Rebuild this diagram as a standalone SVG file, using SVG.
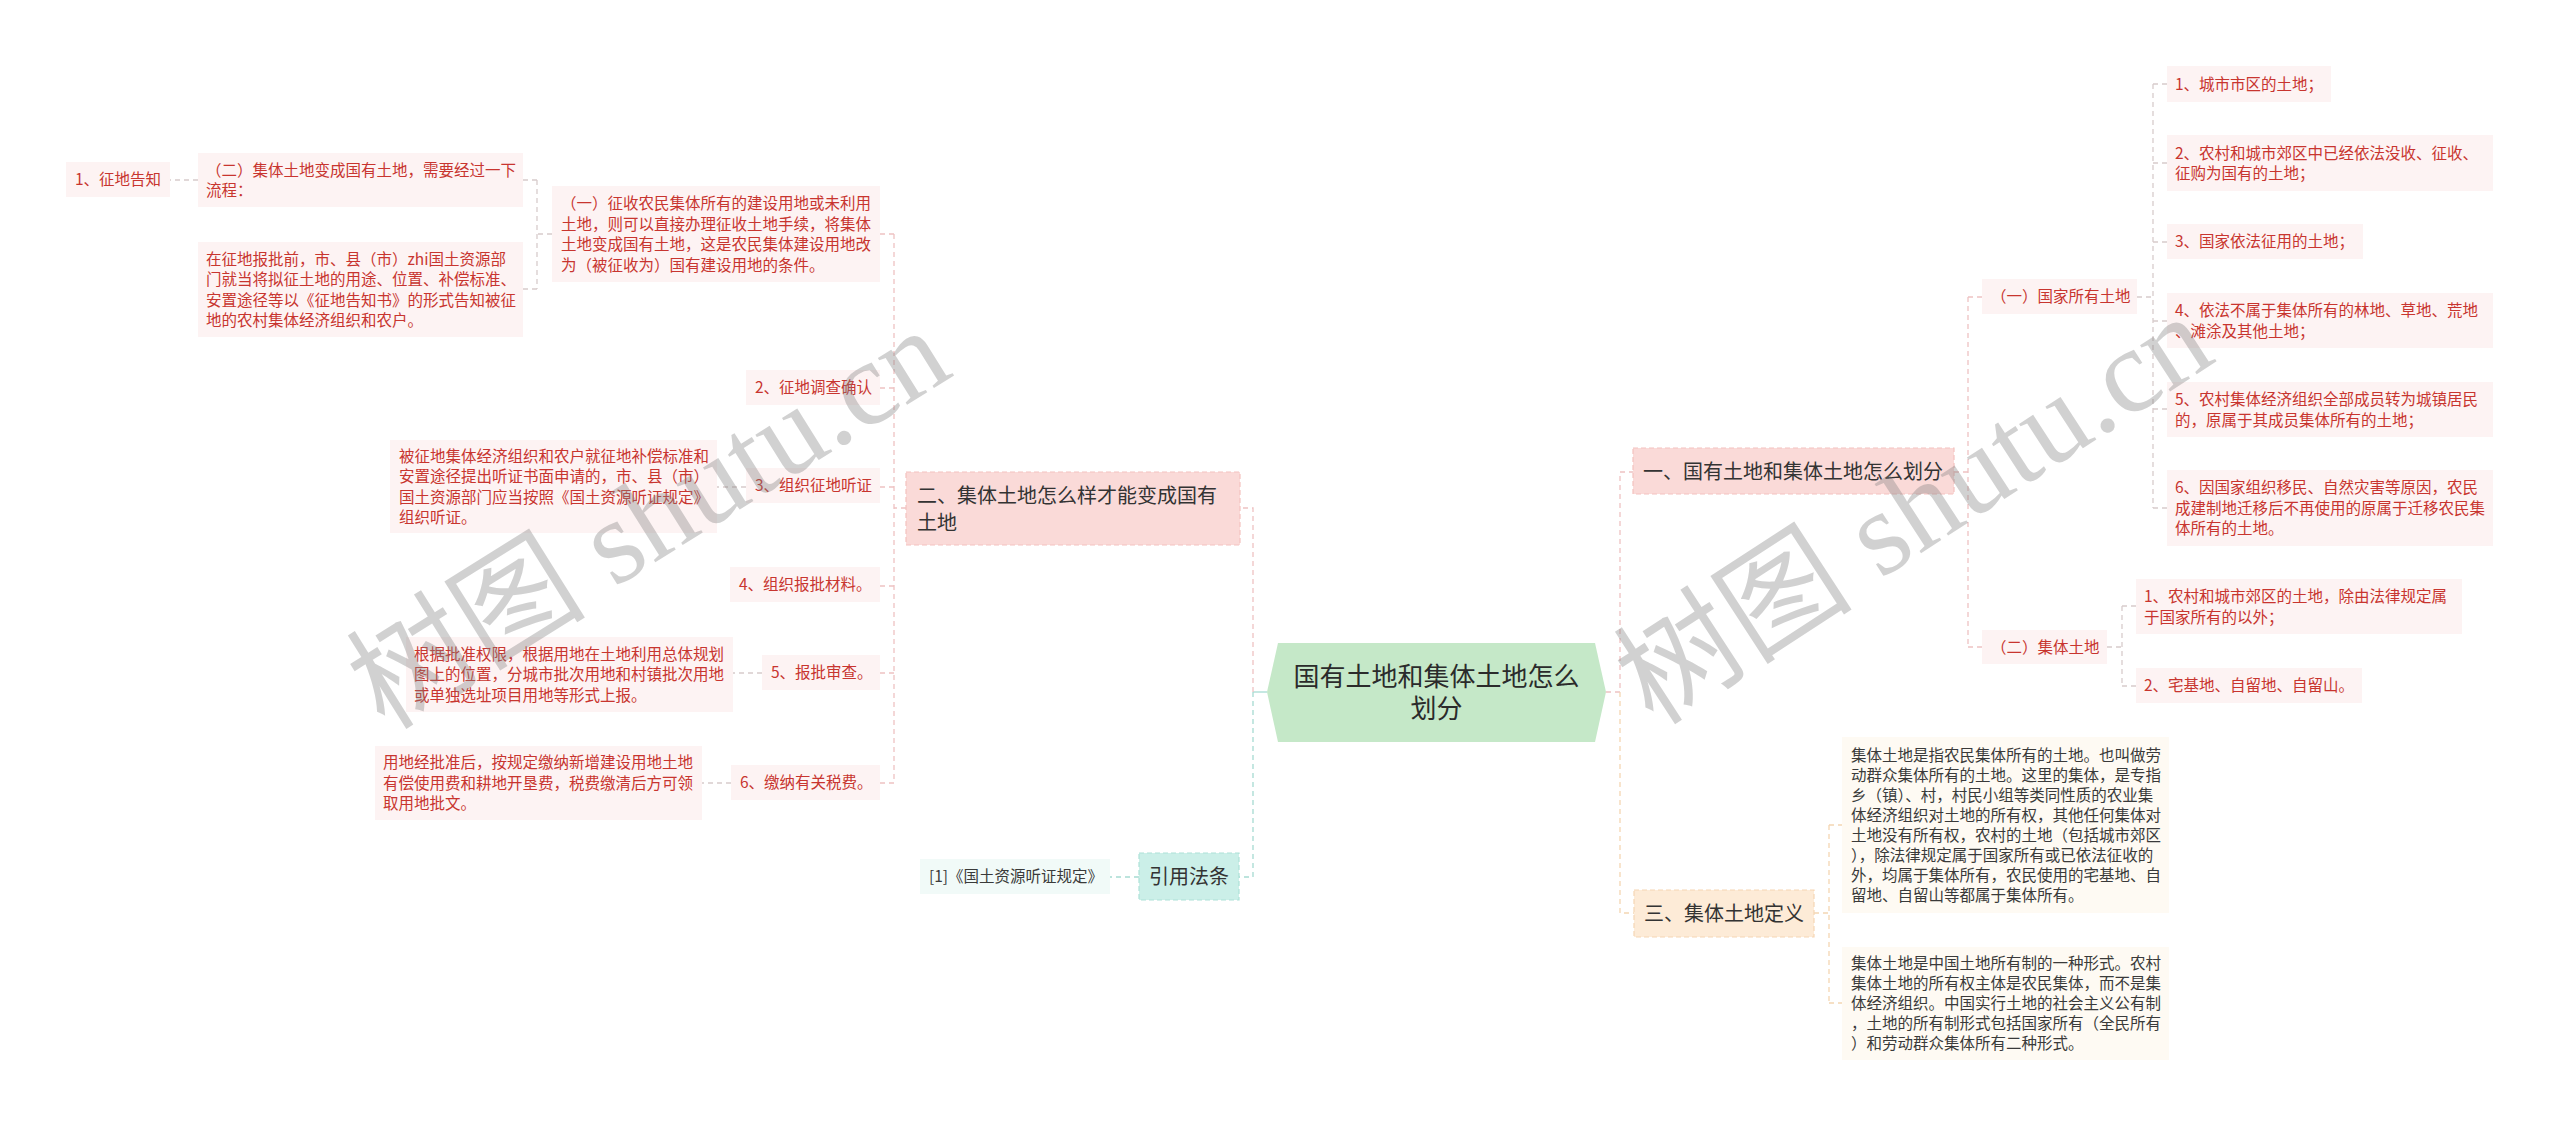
<svg xmlns="http://www.w3.org/2000/svg" width="2560" height="1128" viewBox="0 0 2560 1128">
<style>
text{font-family:"Noto Sans CJK SC","Noto Sans",sans-serif}
.t{font-size:15.5px;fill:#c8352f}
.dk{font-size:15.5px;fill:#3a3a3a}
.h{font-size:20px;fill:#333}
.m{font-size:26px;fill:#2b2b2b}
.leaf{fill:#fdf3f3}
.para{fill:#fefaf3}
.refb{fill:#f1faf8}
.pink{fill:#fadad8;stroke:#f3c2bf;stroke-width:1.2;stroke-dasharray:5 3}
.peach{fill:#fdebd7;stroke:#f6d6b4;stroke-width:1.2;stroke-dasharray:5 3}
.teal{fill:#cbefe8;stroke:#ade2d8;stroke-width:1.2;stroke-dasharray:5 3}
.c{fill:none;stroke-width:1.3;stroke-dasharray:5 4}
.cp{stroke:#eec2c2}
.cg{stroke:#d8cccc}
.ct{stroke:#a6dbd2}
.co{stroke:#f4d6b2}
.wm{font-family:"Liberation Serif","Noto Sans CJK SC",serif;font-size:120px;fill:#7f7f7f;fill-opacity:.36}
</style>
<rect width="2560" height="1128" fill="#fff"/>

<g id="connectors">
<path class="c ct" d="M1267,692 H1253" style="stroke-dasharray:none"/>
<path class="c ct" d="M1253,692 V877 H1239"/>
<path class="c cp" d="M1253,692 V508 H1240"/>
<path class="c ct" d="M1139,877 H1110"/>
<path class="c cp" d="M906,508 H894 M894,234 V783 M894,234 H880 M894,388 H880 M894,487 H880 M894,586 H880 M894,673 H880 M894,783 H880"/>
<path class="c cg" d="M552,234 H537 M537,180 V289 M537,180 H523 M537,289 H523"/>
<path class="c cg" d="M198,180 H170"/>
<path class="c cg" d="M746,487 H717 M762,673 H733 M731,783 H702"/>
<path class="c cp" d="M1606,692 H1620 V472 H1633"/>
<path class="c co" d="M1620,692 V913 H1634"/>
<path class="c cp" d="M1954,472 H1968 M1968,297 V647 M1968,297 H1982 M1968,647 H1982"/>
<path class="c cg" d="M2137,297 H2153 M2153,84 V508 M2153,84 H2167 M2153,163 H2167 M2153,242 H2167 M2153,321 H2167 M2153,409 H2167 M2153,508 H2167"/>
<path class="c cg" d="M2107,647 H2122 M2122,606 V686 M2122,606 H2136 M2122,686 H2136"/>
<path class="c co" d="M1814,913 H1829 M1829,825 V1003 M1829,825 H1842 M1829,1003 H1842"/>
</g>

<g id="main">
<polygon points="1267,692 1278,643 1595,643 1606,692 1595,742 1278,742" fill="#c5e8c8"/>
<text class="m" text-anchor="middle"><tspan x="1436.5" y="686.4">国有土地和集体土地怎么</tspan><tspan x="1436.5" y="718.4">划分</tspan></text>
</g>

<g id="er">
<rect class="pink" x="906" y="472" width="334" height="73"/>
<text class="h"><tspan x="917" y="502.6">二、集体土地怎么样才能变成国有</tspan><tspan x="917" y="529.6">土地</tspan></text>
</g>
<g id="yinyong">
<rect class="teal" x="1139" y="853" width="100" height="47"/>
<text class="h" x="1189" y="884" text-anchor="middle">引用法条</text>
</g>
<g id="ref">
<rect class="refb" x="920" y="859" width="190" height="35"/>
<text class="dk" x="929" y="882.4">[1]《国土资源听证规定》</text>
</g>

<g id="yi1">
<rect class="leaf" x="552" y="186" width="328" height="96"/>
<text class="t"><tspan x="561" y="209.1">（一）征收农民集体所有的建设用地或未利用</tspan><tspan x="561" y="229.6">土地，则可以直接办理征收土地手续，将集体</tspan><tspan x="561" y="250.1">土地变成国有土地，这是农民集体建设用地改</tspan><tspan x="561" y="270.6">为（被征收为）国有建设用地的条件。</tspan></text>
</g>
<g id="er2">
<rect class="leaf" x="198" y="153" width="325" height="54"/>
<text class="t"><tspan x="206" y="175.6">（二）集体土地变成国有土地，需要经过一下</tspan><tspan x="206" y="196.1">流程：</tspan></text>
</g>
<g id="gaozhi">
<rect class="leaf" x="66" y="162" width="104" height="35"/>
<text class="t" x="75" y="185.4">1、征地告知</text>
</g>
<g id="zhengdi-text">
<rect class="leaf" x="198" y="242" width="325" height="95"/>
<text class="t"><tspan x="206" y="264.6">在征地报批前，市、县（市）zhi国土资源部</tspan><tspan x="206" y="285.1">门就当将拟征土地的用途、位置、补偿标准、</tspan><tspan x="206" y="305.6">安置途径等以《征地告知书》的形式告知被征</tspan><tspan x="206" y="326.1">地的农村集体经济组织和农户。</tspan></text>
</g>
<g id="diaocha">
<rect class="leaf" x="746" y="370" width="134" height="35"/>
<text class="t" x="755" y="393.4">2、征地调查确认</text>
</g>
<g id="tingzheng">
<rect class="leaf" x="746" y="468" width="134" height="35"/>
<text class="t" x="755" y="491.4">3、组织征地听证</text>
</g>
<g id="tingzheng-text">
<rect class="leaf" x="390" y="440" width="327" height="93"/>
<text class="t"><tspan x="399" y="461.6">被征地集体经济组织和农户就征地补偿标准和</tspan><tspan x="399" y="482.1">安置途径提出听证书面申请的，市、县（市）</tspan><tspan x="399" y="502.6">国土资源部门应当按照《国土资源听证规定》</tspan><tspan x="399" y="523.1">组织听证。</tspan></text>
</g>
<g id="baopi">
<rect class="leaf" x="730" y="567" width="150" height="35"/>
<text class="t" x="739" y="590.4">4、组织报批材料。</text>
</g>
<g id="shencha">
<rect class="leaf" x="762" y="655" width="118" height="35"/>
<text class="t" x="771" y="678.4">5、报批审查。</text>
</g>
<g id="shencha-text">
<rect class="leaf" x="406" y="637" width="327" height="75"/>
<text class="t"><tspan x="414" y="659.9">根据批准权限，根据用地在土地利用总体规划</tspan><tspan x="414" y="680.4">图上的位置，分城市批次用地和村镇批次用地</tspan><tspan x="414" y="700.9">或单独选址项目用地等形式上报。</tspan></text>
</g>
<g id="jiaona">
<rect class="leaf" x="731" y="765" width="149" height="35"/>
<text class="t" x="740" y="788.4">6、缴纳有关税费。</text>
</g>
<g id="jiaona-text">
<rect class="leaf" x="375" y="746" width="327" height="74"/>
<text class="t"><tspan x="383" y="768.4">用地经批准后，按规定缴纳新增建设用地土地</tspan><tspan x="383" y="788.9">有偿使用费和耕地开垦费，税费缴清后方可领</tspan><tspan x="383" y="809.4">取用地批文。</tspan></text>
</g>

<g id="yi">
<rect class="pink" x="1633" y="448" width="321" height="46"/>
<text class="h" x="1643" y="478.6">一、国有土地和集体土地怎么划分</text>
</g>
<g id="guojia">
<rect class="leaf" x="1982" y="279" width="155" height="35"/>
<text class="t" x="1991" y="302.4">（一）国家所有土地</text>
</g>
<g id="r1">
<rect class="leaf" x="2167" y="66" width="164" height="36"/>
<text class="t" x="2175" y="89.9">1、城市市区的土地；</text>
</g>
<g id="r2">
<rect class="leaf" x="2167" y="135" width="326" height="56"/>
<text class="t"><tspan x="2175" y="158.6">2、农村和城市郊区中已经依法没收、征收、</tspan><tspan x="2175" y="179.1">征购为国有的土地；</tspan></text>
</g>
<g id="r3">
<rect class="leaf" x="2167" y="224" width="196" height="35"/>
<text class="t" x="2175" y="247.4">3、国家依法征用的土地；</text>
</g>
<g id="r4">
<rect class="leaf" x="2167" y="293" width="326" height="55"/>
<text class="t"><tspan x="2175" y="316.1">4、依法不属于集体所有的林地、草地、荒地</tspan><tspan x="2175" y="336.6">、滩涂及其他土地；</tspan></text>
</g>
<g id="r5">
<rect class="leaf" x="2167" y="382" width="326" height="55"/>
<text class="t"><tspan x="2175" y="405.1">5、农村集体经济组织全部成员转为城镇居民</tspan><tspan x="2175" y="425.6">的，原属于其成员集体所有的土地；</tspan></text>
</g>
<g id="r6">
<rect class="leaf" x="2167" y="470" width="326" height="76"/>
<text class="t"><tspan x="2175" y="493.4">6、因国家组织移民、自然灾害等原因，农民</tspan><tspan x="2175" y="513.9">成建制地迁移后不再使用的原属于迁移农民集</tspan><tspan x="2175" y="534.4">体所有的土地。</tspan></text>
</g>
<g id="jiti">
<rect class="leaf" x="1982" y="630" width="125" height="34"/>
<text class="t" x="1991" y="652.9">（二）集体土地</text>
</g>
<g id="c1">
<rect class="leaf" x="2136" y="579" width="326" height="55"/>
<text class="t"><tspan x="2144" y="602.1">1、农村和城市郊区的土地，除由法律规定属</tspan><tspan x="2144" y="622.6">于国家所有的以外；</tspan></text>
</g>
<g id="c2">
<rect class="leaf" x="2136" y="668" width="226" height="35"/>
<text class="t" x="2144" y="691.4">2、宅基地、自留地、自留山。</text>
</g>

<g id="san">
<rect class="peach" x="1634" y="890" width="180" height="47"/>
<text class="h" x="1644" y="921.1">三、集体土地定义</text>
</g>
<g id="d1">
<rect class="para" x="1842" y="737" width="327" height="176"/>
<text class="dk"><tspan x="1851" y="760.9">集体土地是指农民集体所有的土地。也叫做劳</tspan><tspan x="1851" y="780.9">动群众集体所有的土地。这里的集体，是专指</tspan><tspan x="1851" y="800.9">乡（镇）、村，村民小组等类同性质的农业集</tspan><tspan x="1851" y="820.9">体经济组织对土地的所有权，其他任何集体对</tspan><tspan x="1851" y="840.9">土地没有所有权，农村的土地（包括城市郊区</tspan><tspan x="1851" y="860.9">），除法律规定属于国家所有或已依法征收的</tspan><tspan x="1851" y="880.9">外，均属于集体所有，农民使用的宅基地、自</tspan><tspan x="1851" y="900.9">留地、自留山等都属于集体所有。</tspan></text>
</g>
<g id="d2">
<rect class="para" x="1842" y="947" width="327" height="113"/>
<text class="dk"><tspan x="1851" y="969.4">集体土地是中国土地所有制的一种形式。农村</tspan><tspan x="1851" y="989.4">集体土地的所有权主体是农民集体，而不是集</tspan><tspan x="1851" y="1009.4">体经济组织。中国实行土地的社会主义公有制</tspan><tspan x="1851" y="1029.4">，土地的所有制形式包括国家所有（全民所有</tspan><tspan x="1851" y="1049.4">）和劳动群众集体所有二种形式。</tspan></text>
</g>

<g id="watermarks">
<text class="wm" text-anchor="middle" transform="translate(649,519) rotate(-32)" y="40">树图 shutu.cn</text>
<text class="wm" text-anchor="middle" transform="translate(1914,510) rotate(-33)" y="40">树图 shutu.cn</text>
</g>
</svg>
